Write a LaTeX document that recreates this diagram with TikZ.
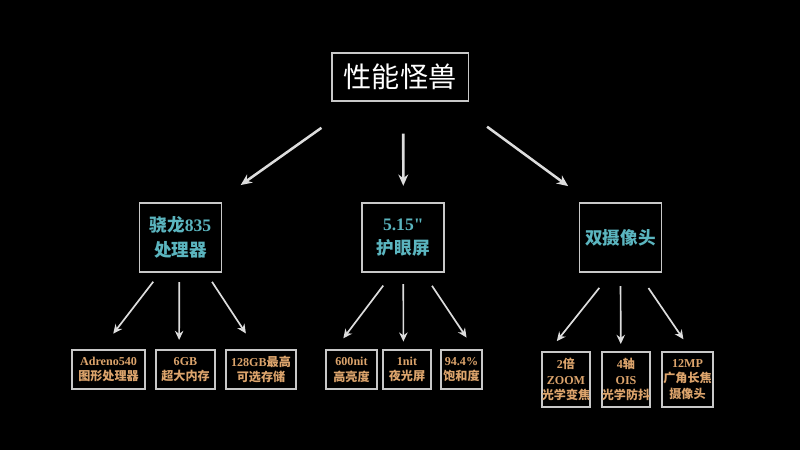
\documentclass[tikz,border=0pt]{standalone}
\usepackage{fontspec}
\setmainfont{Liberation Serif}
\newfontfamily\cjk{Noto Sans CJK SC}
\newfontfamily\plainserif{Liberation Serif}
\usetikzlibrary{arrows.meta}
\definecolor{boxgray}{HTML}{C8C8C8}
\definecolor{arrowgray}{HTML}{DDDDDD}
\definecolor{tealtext}{HTML}{5BB5BF}
\definecolor{goldtext}{HTML}{DCA46C}

\begin{document}
\begin{tikzpicture}[x=0.025cm, y=-0.025cm,
    box/.style={draw=boxgray, line width=1.3pt, inner sep=0pt, align=center},
    topbox/.style={box, minimum width=3.42cm, minimum height=1.2cm, text=white, font=\fontsize{20}{24}\selectfont\cjk},
    midbox/.style={box, minimum width=2.05cm, minimum height=1.72cm, text=tealtext, font=\fontsize{12.5}{17.5}\selectfont\bfseries},
    leafbox/.style={box, minimum height=0.97cm, text=goldtext, font=\fontsize{8.6}{11.2}\selectfont\bfseries},
    bigarrow/.style={draw=arrowgray, line width=1.8pt, -{Stealth[length=8pt, width=7pt]}},
    smallarrow/.style={draw=arrowgray, line width=1.2pt, -{Stealth[length=6.5pt, width=6pt]}}]
            \fill[black] (0,0) rectangle (800,450);
            \useasboundingbox (0,0) rectangle (800,450);
            % top
            \node[topbox] (beast) at (400,77) {性能怪兽};
            % second row
            \node[midbox] (chip) at (180.5,237.5) {{\cjk 骁龙}835\\{\cjk 处理器}};
            \node[midbox] (screen) at (403.3,237.5) {{\plainserif 5.15"}\\{\cjk 护眼屏}};
            \node[midbox] (camera) at (620.5,237.5) {{\cjk 双摄像头}};
            % leaves
            \node[leafbox, minimum width=1.82cm] (gpu) at (108.5,369.5) {Adreno540\\{\cjk 图形处理器}};
            \node[leafbox, minimum width=1.47cm] (ram) at (185.5,369.5) {6GB\\{\cjk 超大内存}};
            \node[leafbox, minimum width=1.75cm] (rom) at (261,369.5) {128GB{\cjk 最高}\\{\cjk 可选存储}};
            \node[leafbox, minimum width=1.27cm] (bright) at (351.5,369.5) {600nit\\{\cjk 高亮度}};
            \node[leafbox, minimum width=1.2cm] (night) at (407,369.5) {1nit\\{\cjk 夜光屏}};
            \node[leafbox, minimum width=1.02cm] (sat) at (461.5,369.5) {94.4\%\\{\cjk 饱和度}};
            \node[leafbox, minimum width=1.2cm, minimum height=1.37cm] (zoomcam) at (566,379.5) {2{\cjk 倍}\\ZOOM\\{\cjk 光学变焦}};
            \node[leafbox, minimum width=1.2cm, minimum height=1.37cm] (ois) at (626,379.5) {4{\cjk 轴}\\OIS\\{\cjk 光学防抖}};
            \node[leafbox, minimum width=1.27cm, minimum height=1.37cm] (tele) at (687.5,379.5) {12MP\\{\cjk 广角长焦}\\{\cjk 摄像头}};
            % arrows from the top
            \draw[bigarrow, shorten <=1.12cm, shorten >=0.74cm] ([xshift=-1.05cm]beast.south) -- ([xshift=0.9cm]chip.north);
            \draw[bigarrow, shorten <=0.79cm, shorten >=0.41cm] ([xshift=0.08cm]beast.south) -- (screen.north);
            \draw[bigarrow, shorten <=1.05cm, shorten >=0.68cm] ([xshift=1.33cm]beast.south) -- ([xshift=-0.76cm]camera.north);
            % arrows to the leaves
            \draw[smallarrow, shorten <=0.28cm, shorten >=0.49cm] ([xshift=-0.51cm]chip.south) -- ([xshift=-0.18cm]gpu.north);
            \draw[smallarrow, shorten <=0.23cm, shorten >=0.23cm] ([xshift=-0.03cm]chip.south) -- ([xshift=-0.16cm]ram.north);
            \draw[smallarrow, shorten <=0.27cm, shorten >=0.47cm] ([xshift=0.64cm]chip.south) -- ([xshift=-0.12cm]rom.north);
            \draw[smallarrow, shorten <=0.4cm, shorten >=0.34cm] ([xshift=-0.26cm]screen.south) -- ([xshift=-0.41cm]bright.north);
            \draw[smallarrow, shorten <=0.28cm, shorten >=0.19cm] (screen.south) -- ([xshift=-0.09cm]night.north);
            \draw[smallarrow, shorten <=0.39cm, shorten >=0.35cm] ([xshift=0.5cm]screen.south) -- ([xshift=0.32cm]sat.north);
            \draw[smallarrow, shorten <=0.48cm, shorten >=0.32cm] ([xshift=-0.23cm]camera.south) -- ([xshift=-0.43cm]zoomcam.north);
            \draw[smallarrow, shorten <=0.33cm, shorten >=0.18cm] (camera.south) -- ([xshift=-0.13cm]ois.north);
            \draw[smallarrow, shorten <=0.46cm, shorten >=0.36cm] ([xshift=0.44cm]camera.south) -- ([xshift=0.1cm]tele.north);
        \end{tikzpicture}
\end{document}
